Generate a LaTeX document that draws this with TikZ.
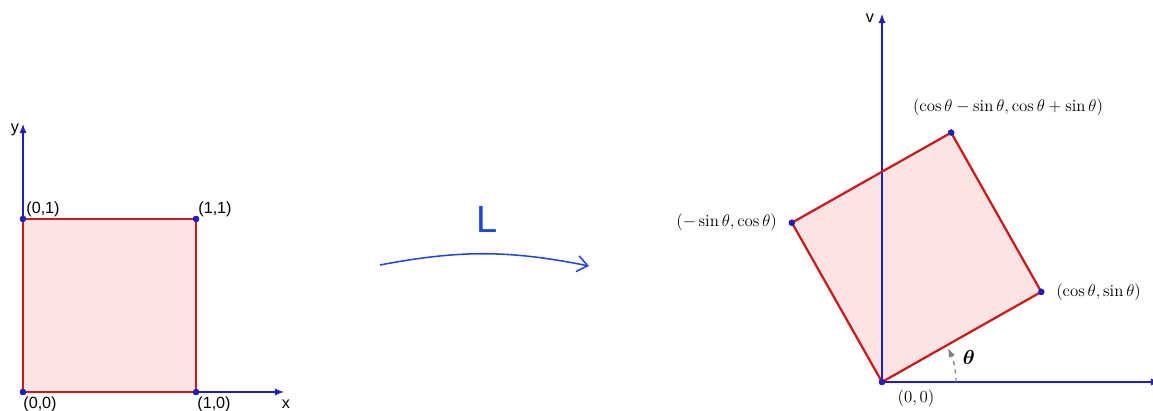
\documentclass[tikz,border=0pt]{standalone}
\usepackage{amsmath}
\usepackage{fontspec}
\setsansfont{Liberation Sans}
\usetikzlibrary{positioning,arrows.meta,calc}
\definecolor{axisblue}{RGB}{30,30,190}
\definecolor{sqred}{RGB}{205,25,25}
\definecolor{sqfill}{RGB}{253,228,228}
\definecolor{mapblue}{RGB}{35,70,225}
\tikzset{
  axis/.style={axisblue, line width=0.8pt, -{Latex[length=2.3mm,width=1.8mm]}},
  dot/.style={circle, fill=axisblue, inner sep=0pt, minimum size=1.6mm},
  sqfill/.style={fill=sqfill},
  sq/.style={draw=sqred, line width=1.6pt, line join=round},
  lbl/.style={font=\sffamily\fontsize{11.5}{13}\selectfont, inner sep=1pt},
  mlbl/.style={font=\fontsize{12}{14}\selectfont, inner sep=1pt},
  maparrow/.style={mapblue, line width=1.1pt, -{Straight Barb[length=2.6mm,width=4mm]}},
  angarrow/.style={gray, dashed, line width=0.9pt, -{Latex[length=2.2mm]}}
}
\begin{document}
\begin{tikzpicture}[x=0.025cm, y=-0.025cm]
    \useasboundingbox (0,0) rectangle (1153,411);
    % unit square
    \node[dot] (o1) at (23,392) {};
    \node[dot] (p10) at (196,392) {};
    \node[dot] (p11) at (196,219) {};
    \node[dot] (p01) at (23,219) {};
    \fill[sqfill] (o1.center) -- (p10.center) -- (p11.center) -- (p01.center) -- cycle;
    \coordinate (xend) at (284,392);
    \coordinate (yend) at (23,124);
    \draw[axis] (o1.center) -- (xend);
    \draw[axis] (o1.center) -- (yend);
    \draw[sq] (o1.center) -- (p10.center) -- (p11.center) -- (p01.center) -- cycle;
    \foreach \p in {o1,p10,p11,p01} \node[dot] at (\p) {};
    \node[lbl] at (15,130) {y};
    \node[lbl] at (286,404) {x};
    \node[lbl] at (40,404) {(0,0)};
    \node[lbl] at (214,404) {(1,0)};
    \node[lbl] at (43,209) {(0,1)};
    \node[lbl] at (215,209) {(1,1)};
    % the map
    \coordinate (ms) at (380,265);
    \coordinate (me) at (589,266);
    \draw[maparrow] (ms) to[bend left=11] (me);
    \node[text=mapblue, font=\sffamily\fontsize{27}{30}\selectfont] (L) at (487,219) {L};
    % rotated square
    \node[dot] (o2) at (882,382) {};
    \node[dot] (pa) at ($(o2)+(-29.5:183)$) {};
    \node[dot] (pb) at ($(o2)+(-119.5:183)$) {};
    \node[dot] (pc) at ($(pa)+(pb)-(o2)$) {};
    \fill[sqfill] (o2.center) -- (pa.center) -- (pc.center) -- (pb.center) -- cycle;
    \coordinate (uend) at (1160,382);
    \coordinate (vend) at (882,14);
    \draw[axis] (o2.center) -- (uend);
    \draw[axis] (o2.center) -- (vend);
    \draw[sq] (o2.center) -- (pa.center) -- (pc.center) -- (pb.center) -- cycle;
    \foreach \p in {o2,pa,pb,pc} \node[dot] at (\p) {};
    \draw[angarrow] ($(o2)+(74,0)$) arc[start angle=0, end angle=-27, radius=74];
    \node[font=\fontsize{14}{16}\selectfont] at (969,357) {$\boldsymbol{\theta}$};
    \node[lbl] at (870,18) {v};
    \node[mlbl] at (916,398) {$(0,0)$};
    \node[mlbl, right=7pt of pa] {$(\cos\theta,\sin\theta)$};
    \node[mlbl, left=7pt of pb] {$(-\sin\theta,\cos\theta)$};
    \node[mlbl] at (1008,107) {$(\cos\theta-\sin\theta,\cos\theta+\sin\theta)$};
\end{tikzpicture}
\end{document}
